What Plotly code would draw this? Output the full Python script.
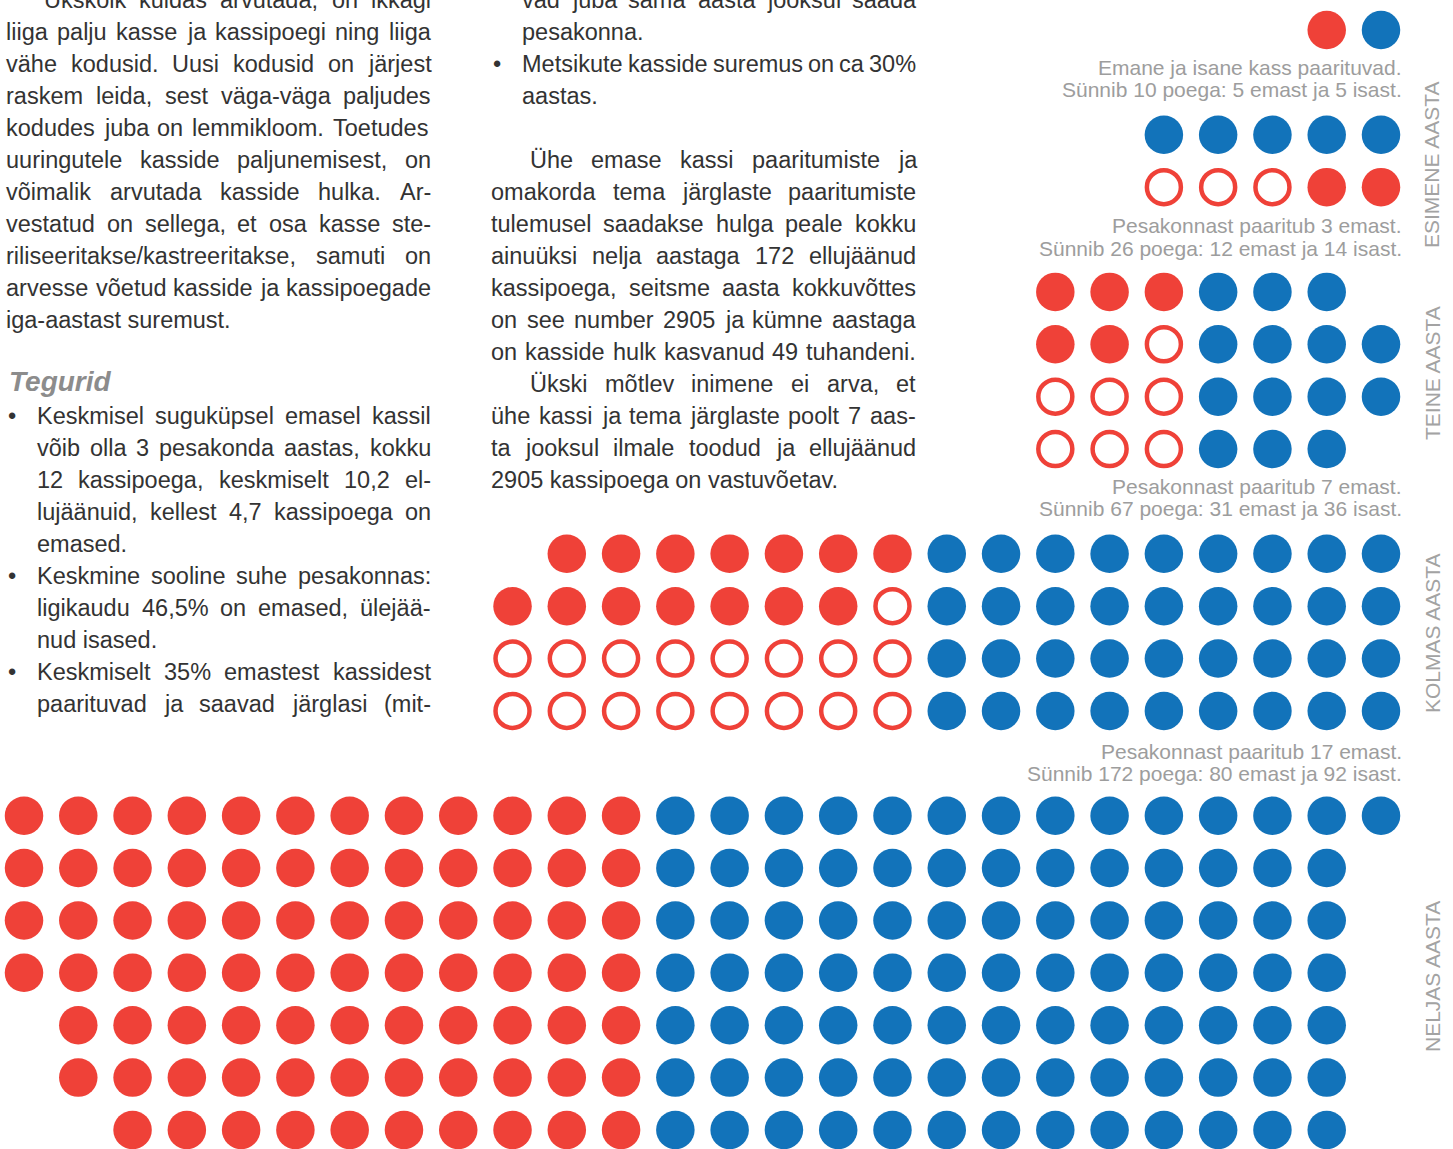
import unicodedata
import plotly.graph_objects as go

# ---------------- data ----------------
# Year 0: the parent pair
Y0_FEMALES = [1]
Y0_MALES = [1]
# Year 1: one litter (male row on top, female row below)
Y1_MALES = [5]
Y1_FEM_MATING = [3]
Y1_FEM_OTHER = [2]
# Years 2-4: per row counts (non-mating females, mating females, males)
Y2_FEM_OTHER = [3, 2, 0, 0]
Y2_FEM_MATING = [0, 1, 3, 3]
Y2_MALES = [3, 4, 4, 3]
Y3_FEM_OTHER = [7, 7, 0, 0]
Y3_FEM_MATING = [0, 1, 8, 8]
Y3_MALES = [9, 9, 9, 9]
Y4_FEM_OTHER = [12, 12, 12, 12, 11, 11, 10]
Y4_FEM_MATING = [0, 0, 0, 0, 0, 0, 0]
Y4_MALES = [14, 13, 13, 13, 13, 13, 13]

YEAR_NAMES = ["ESIMENE AASTA", "TEINE AASTA", "KOLMAS AASTA", "NELJAS AASTA"]
STEP_LABELS = [
    ["Emane ja isane kass paarituvad.", "Sünnib 10 poega: 5 emast ja 5 isast."],
    ["Pesakonnast paaritub 3 emast.", "Sünnib 26 poega: 12 emast ja 14 isast."],
    ["Pesakonnast paaritub 7 emast.", "Sünnib 67 poega: 31 emast ja 36 isast."],
    ["Pesakonnast paaritub 17 emast.", "Sünnib 172 poega: 80 emast ja 92 isast."],
]

LEFT_PARA = [
    "Ükskõik kuidas arvutada, on ikkagi",
    "liiga palju kasse ja kassipoegi ning liiga",
    "vähe kodusid. Uusi kodusid on järjest",
    "raskem leida, sest väga-väga paljudes",
    "kodudes juba on lemmikloom. Toetudes",
    "uuringutele kasside paljunemisest, on",
    "võimalik arvutada kasside hulka. Ar-",
    "vestatud on sellega, et osa kasse ste-",
    "riliseeritakse/kastreeritakse, samuti on",
    "arvesse võetud kasside ja kassipoegade",
    "iga-aastast suremust.",
]
HEADING = "Tegurid"
BULLETS_LEFT = [
    ["Keskmisel suguküpsel emasel kassil",
     "võib olla 3 pesakonda aastas, kokku",
     "12 kassipoega, keskmiselt 10,2 el-",
     "lujäänuid, kellest 4,7 kassipoega on",
     "emased."],
    ["Keskmine sooline suhe pesakonnas:",
     "ligikaudu 46,5% on emased, ülejää-",
     "nud isased."],
    ["Keskmiselt 35% emastest kassidest",
     "paarituvad ja saavad järglasi (mit-"],
]
MID_CONT = ["vad juba sama aasta jooksul saada", "pesakonna."]
MID_BULLET = ["Metsikute kasside suremus on ca 30%", "aastas."]
MID_PARA1 = [
    "Ühe emase kassi paaritumiste ja",
    "omakorda tema järglaste paaritumiste",
    "tulemusel saadakse hulga peale kokku",
    "ainuüksi nelja aastaga 172 ellujäänud",
    "kassipoega, seitsme aasta kokkuvõttes",
    "on see number 2905 ja kümne aastaga",
    "on kasside hulk kasvanud 49 tuhandeni.",
]
MID_PARA2 = [
    "Ükski mõtlev inimene ei arva, et",
    "ühe kassi ja tema järglaste poolt 7 aas-",
    "ta jooksul ilmale toodud ja ellujäänud",
    "2905 kassipoega on vastuvõetav.",
]

# ---------------- style / layout ----------------
W, H = 1453, 1149
RED = "#EF4138"
BLUE = "#1273BA"
TEXT = "#333333"
GREY = "#9d9d9d"
FONT = "Liberation Sans"
BODY = 23.5
LABEL = 21

X0, DX = 24.0, 54.28   # pixel centre of column 0, pixels per column
Y0, DY = 30.0, 52.38   # pixel centre of row 0, pixels per row

# ---------------- build dot positions ----------------
fx, fy, rx, ry, bx, by = [], [], [], [], [], []


def place_rows(start_row, boundary, other, mating, males):
    for i, (o, m, b) in enumerate(zip(other, mating, males)):
        row = start_row + i
        start = boundary - (o + m) + 1
        for k in range(o):
            fx.append(start + k); fy.append(row)
        for k in range(m):
            rx.append(start + o + k); ry.append(row)
        for k in range(b):
            bx.append(boundary + 1 + k); by.append(row)


# year 0 parents
place_rows(0, 24, Y0_FEMALES, [0], Y0_MALES)
# year 1: males row, then females row (mating first)
for k in range(Y1_MALES[0]):
    bx.append(25 - Y1_MALES[0] + 1 + k); by.append(2)
nf = Y1_FEM_MATING[0] + Y1_FEM_OTHER[0]
for k in range(Y1_FEM_MATING[0]):
    rx.append(25 - nf + 1 + k); ry.append(3)
for k in range(Y1_FEM_OTHER[0]):
    fx.append(25 - Y1_FEM_OTHER[0] + 1 + k); fy.append(3)
place_rows(5, 21, Y2_FEM_OTHER, Y2_FEM_MATING, Y2_MALES)
place_rows(10, 16, Y3_FEM_OTHER, Y3_FEM_MATING, Y3_MALES)
place_rows(15, 11, Y4_FEM_OTHER, Y4_FEM_MATING, Y4_MALES)

fig = go.Figure()
fig.add_trace(go.Scatter(x=fx, y=fy, mode="markers", hoverinfo="skip",
                         marker=dict(symbol="circle", size=38.5, color=RED, line=dict(width=0))))
fig.add_trace(go.Scatter(x=rx, y=ry, mode="markers", hoverinfo="skip",
                         marker=dict(symbol="circle-open", size=34, color=RED,
                                     line=dict(width=4.5, color=RED))))
fig.add_trace(go.Scatter(x=bx, y=by, mode="markers", hoverinfo="skip",
                         marker=dict(symbol="circle", size=38.5, color=BLUE, line=dict(width=0))))

# ---------------- text ----------------
AW = {' ': 278, 'a': 556, 'b': 556, 'c': 500, 'd': 556, 'e': 556, 'f': 278, 'g': 556, 'h': 556,
      'i': 222, 'j': 222, 'k': 500, 'l': 222, 'm': 833, 'n': 556, 'o': 556, 'p': 556, 'q': 556,
      'r': 333, 's': 500, 't': 278, 'u': 556, 'v': 500, 'w': 722, 'x': 500, 'y': 500, 'z': 500,
      'A': 667, 'B': 667, 'C': 722, 'D': 722, 'E': 667, 'F': 611, 'G': 778, 'H': 722, 'I': 278,
      'J': 500, 'K': 667, 'L': 556, 'M': 833, 'N': 722, 'O': 778, 'P': 667, 'Q': 778, 'R': 722,
      'S': 667, 'T': 611, 'U': 722, 'V': 667, 'W': 944, 'X': 667, 'Y': 667, 'Z': 611,
      '.': 278, ',': 278, ':': 278, ';': 278, '-': 333, '/': 278, '%': 889, '(': 333, ')': 333}


def tw(s, fs):
    tot = 0
    for ch in s:
        base = unicodedata.normalize("NFD", ch)[0]
        tot += AW.get(base, 556)
    return tot * fs / 1000.0


annotations = []


def ann(text, px, py, size, color, xanchor="left", **kw):
    d = dict(text=text, x=px / W, y=1 - py / H, xref="paper", yref="paper",
             xanchor=xanchor, yanchor="middle", showarrow=False, borderpad=0,
             font=dict(family=FONT, size=size, color=color))
    d.update(kw)
    annotations.append(d)


def line(text, left, right, py, justify):
    words = text.split(" ")
    if not justify or len(words) == 1:
        ann(text, left, py, BODY, TEXT)
        return
    widths = [tw(w, BODY) for w in words]
    gap = (right - left - sum(widths)) / (len(words) - 1)
    x = left
    for w, wd in zip(words, widths):
        ann(w, x, py, BODY, TEXT)
        x += wd + gap


def block(lines, first_row, left, right, indent=None, bullet_x=None, last_left=True):
    for i, t in enumerate(lines):
        l0 = indent if (indent is not None and i == 0) else left
        just = not (last_left and i == len(lines) - 1)
        line(t, l0, right, (first_row + i) * 32, just)
    if bullet_x is not None:
        ann("•", bullet_x, first_row * 32, BODY, TEXT, xanchor="center")


# left column
block(LEFT_PARA, 0, 5, 430, indent=43)
ann(HEADING, 8, 382, 28, "#8c8c8c",
    font=dict(family=FONT, size=28, color="#8c8c8c", weight="bold", style="italic"))
r = 13
for b in BULLETS_LEFT:
    last = b is not BULLETS_LEFT[-1]
    block(b, r, 36, 430, bullet_x=12, last_left=last)
    r += len(b)

# middle column
block(MID_CONT, 0, 521, 915)
block(MID_BULLET, 2, 521, 915, bullet_x=497)
MID_PARA1_ROWS = 5
for i, t in enumerate(MID_PARA1):
    line(t, 529 if i == 0 else 490, 915, (MID_PARA1_ROWS + i) * 32, True)
block(MID_PARA2, 12, 490, 915, indent=529)

# step labels (right aligned)
LABEL_Y = [67, 226, 486, 751]
for (a, b), yy in zip(STEP_LABELS, LABEL_Y):
    ann(a, 1403, yy, LABEL, GREY, xanchor="right")
    ann(b, 1403, yy + 22.5, LABEL, GREY, xanchor="right")

# vertical year labels
YEAR_Y = [165, 373, 633, 977]
for name, yy in zip(YEAR_NAMES, YEAR_Y):
    ann(name, 1432, yy, 21, "#a3a3a3", xanchor="center", textangle=-90)

fig.update_layout(
    width=W, height=H,
    margin=dict(l=0, r=0, t=0, b=0),
    paper_bgcolor="white", plot_bgcolor="white",
    showlegend=False,
    xaxis=dict(range=[-X0 / DX, (W - X0) / DX], visible=False, fixedrange=True),
    yaxis=dict(range=[(H - Y0) / DY, -Y0 / DY], visible=False, fixedrange=True),
    annotations=annotations,
)

fig.write_html("out.html", config={"displayModeBar": False},
               post_script="document.body.style.margin='0px';document.body.style.overflow='hidden';")
